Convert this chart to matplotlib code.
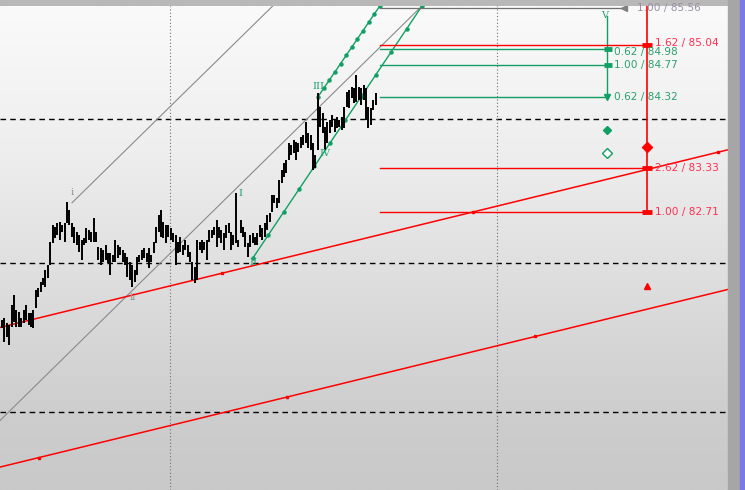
import numpy as np
import matplotlib
matplotlib.use("Agg")
import matplotlib.pyplot as plt
from matplotlib.colors import LinearSegmentedColormap
from matplotlib.patches import Rectangle

# ---------------- data ----------------
highs = [81.20,81.23,81.16,81.13,81.41,81.55,81.34,81.31,81.23,81.34,
         81.41,81.30,81.30,81.34,81.62,81.65,81.73,81.79,81.90,81.97,
         82.29,82.53,82.50,82.56,82.57,82.53,82.56,82.85,82.74,82.56,
         82.50,82.43,82.39,82.32,82.35,82.49,82.46,82.43,82.63,82.43,
         82.22,82.21,82.18,82.25,82.14,82.14,82.11,82.32,82.25,82.22,
         82.18,82.14,82.08,82.01,81.97,81.90,82.08,82.11,82.18,82.21,
         82.14,82.21,82.11,82.29,82.50,82.67,82.74,82.57,82.53,82.53,
         82.49,82.42,82.39,82.29,82.36,82.25,82.32,82.25,82.15,82.01,
         81.94,82.32,82.29,82.32,82.29,82.32,82.46,82.46,82.50,82.60,
         82.50,82.46,82.42,82.53,82.56,82.43,82.39,82.98,82.32,82.60,
         82.50,82.43,82.28,82.39,82.42,82.36,82.42,82.53,82.49,82.56,
         82.67,82.70,82.95,82.95,82.91,83.16,83.30,83.39,83.44,83.67,
         83.65,83.72,83.69,83.67,83.76,83.79,83.97,83.81,83.79,83.67,
         83.51,84.37,84.18,84.09,83.90,83.97,84.00,84.07,84.00,84.04,
         84.00,84.04,84.18,84.39,84.41,84.46,84.44,84.62,84.46,84.44,
         84.48,84.44,84.18,84.16,84.27,84.37]
lows = [81.09,80.89,80.96,80.85,81.10,81.17,81.10,81.10,81.10,81.16,
        81.20,81.13,81.10,81.09,81.37,81.52,81.59,81.69,81.66,81.79,
        81.97,82.28,82.35,82.39,82.32,82.43,82.29,82.56,82.53,82.36,
        82.28,82.25,82.15,82.04,82.25,82.28,82.32,82.29,82.29,82.29,
        82.04,81.97,82.01,82.04,82.00,81.83,82.01,82.01,82.07,82.11,
        82.01,81.97,81.80,81.76,81.66,81.73,81.83,82.01,82.04,82.07,
        82.01,81.93,82.01,82.14,82.28,82.43,82.36,82.35,82.28,82.36,
        82.32,82.29,81.97,82.14,82.15,82.11,82.18,82.08,82.01,81.76,
        81.72,81.76,82.18,82.14,82.18,82.04,82.29,82.35,82.39,82.22,
        82.35,82.28,82.18,82.35,82.42,82.18,82.25,82.28,82.22,82.42,
        82.36,82.22,82.08,82.22,82.28,82.25,82.25,82.36,82.32,82.36,
        82.46,82.57,82.71,82.84,82.77,82.84,83.12,83.20,83.26,83.44,
        83.51,83.53,83.44,83.55,83.60,83.65,83.67,83.60,83.58,83.30,
        83.32,83.58,83.90,83.81,83.58,83.67,83.81,83.90,83.83,83.88,
        83.90,83.86,83.88,84.18,84.16,84.30,84.23,84.25,84.27,84.20,
        84.27,84.00,83.88,83.93,84.14,84.20]

# grid levels (dashed) and vertical separators (bar index)
grid_levels = [84.01, 82.00, 79.92]
vsep = [69.7, 205.4]

# trend lines: ((x0, p0), (x1, p1)) in bar index / price
red_lines = [((-0.83, 81.10), (301.2, 83.58)), ((-0.83, 79.15), (301.2, 81.63))]
red_line_marks = [[91.3, 195.4, 297.1], [15.4, 118.3, 221.2]]
gray_lines = [((29.05, 82.84), (112.4, 85.59)), ((-0.83, 79.80), (174.3, 85.59))]
green_lines = [((104.1, 82.07), (174.3, 85.59)), ((131.1, 84.32), (156.8, 85.59))]

# projection levels
green_levels = [84.98, 84.77, 84.32]
green_texts = ["0.62 / 84.98", "1.00 / 84.77", "0.62 / 84.32"]
red_levels = [85.04, 83.33, 82.71]
red_texts = ["1.62 / 85.04", "2.62 / 83.33", "1.00 / 82.71"]
gray_level = 85.56
gray_text = "1.00 / 85.56"

wave_labels = ["i", "ii", "I", "II", "III", "IV", "V"]
wave_x = [29.0, 54.4, 98.8, 104.1, 131.1, 134.0, 250.2]
wave_p = [82.99, 81.52, 82.97, 82.01, 84.46, 83.53, 85.45]
wave_col = ["#a08878", "#909090", "#20a070", "#20a070", "#20a070", "#20a070", "#20a070"]

GREEN = "#10a064"
RED = "#ff0000"

# ---------------- figure ----------------
W, H = 745, 490
fig = plt.figure(figsize=(W / 100, H / 100), dpi=100)
fig.patch.set_facecolor("#b8b8b8")
fig.patches.append(Rectangle((728 / W, 0), 12 / W, 1, transform=fig.transFigure,
                             color="#a6a6a6", zorder=0))
fig.patches.append(Rectangle((740 / W, 0), 5 / W, 1, transform=fig.transFigure,
                             color="#7a7ae6", zorder=0))

ax = fig.add_axes([0, 0, 728 / W, 484 / H])
x0, x1 = -0.83, 301.2
y0, y1 = 78.83, 85.587
ax.set_xlim(x0, x1)
ax.set_ylim(y0, y1)
ax.axis("off")

cmap = LinearSegmentedColormap.from_list(
    "bg", [(0, "#fafafa"), (0.3, "#eeeeee"), (0.6, "#dcdcdc"), (0.85, "#cdcdcd"), (1, "#c9c9c9")])
grad = np.linspace(0, 1, 256).reshape(-1, 1)
ax.imshow(grad, extent=[x0, x1, y0, y1], origin="upper", cmap=cmap, aspect="auto", zorder=0)

for g in grid_levels:
    ax.axhline(g, color="black", lw=1.0, ls=(0, (4, 3)), zorder=1)
for v in vsep:
    ax.axvline(v, color="#707070", lw=0.8, ls=(0, (1, 2)), zorder=1)

# trend lines
for (a, b), marks in zip(red_lines, red_line_marks):
    ax.plot([a[0], b[0]], [a[1], b[1]], color=RED, lw=1.1, zorder=3)
    mp = np.interp(marks, [a[0], b[0]], [a[1], b[1]])
    ax.plot(marks, mp, ls="none", marker="s", color=RED, ms=1.8, zorder=3)
for (a, b) in gray_lines:
    ax.plot([a[0], b[0]], [a[1], b[1]], color="#8a8a8a", lw=0.8, zorder=2)
for (a, b) in green_lines:
    xs = np.linspace(a[0], b[0], 12)
    ys = np.linspace(a[1], b[1], 12)
    ax.plot(xs, ys, color=GREEN, lw=1.0, marker="o", ms=2.2, zorder=3)

# price bars
idx = np.arange(len(highs))
ax.vlines(idx, lows, highs, color="black", lw=1.4, zorder=4)

# projection lines
start = 156.8
for lvl in green_levels:
    ax.plot([start, 251.5], [lvl, lvl], color=GREEN, lw=1.0, zorder=3)
for lvl in green_levels[:2]:
    ax.plot([249.6, 253.0], [lvl, lvl], color=GREEN, lw=3.5, solid_capstyle="butt", zorder=5)
ax.plot([251.0], [green_levels[2]], marker="v", color=GREEN, ms=5, zorder=5)
ax.plot([251.0, 251.0], [85.45, 84.32], color=GREEN, lw=1.0, zorder=3)

for lvl in red_levels:
    ax.plot([start, 268.9], [lvl, lvl], color=RED, lw=1.0, zorder=3)
    ax.plot([265.5, 269.5], [lvl, lvl], color=RED, lw=3.5, solid_capstyle="butt", zorder=5)
ax.plot([267.6, 267.6], [y1, 82.71], color=RED, lw=1.2, zorder=3)

ax.plot([start, 257.3], [gray_level, gray_level], color="#707070", lw=0.9, zorder=3)
ax.plot([258.0], [gray_level], marker="<", color="#808080", ms=4, zorder=5)

# markers
ax.plot([267.6], [83.62], marker="D", color=RED, ms=5, zorder=6)
ax.plot([251.0], [83.855], marker="D", color=GREEN, ms=4.5, zorder=6)
ax.plot([251.0], [83.53], marker="D", mfc="white", mec=GREEN, ms=5, mew=1, zorder=6)
ax.plot([267.6], [81.68], marker="^", color=RED, ms=5, zorder=6)

fs = 7.6
for k, (lvl, t) in enumerate(zip(green_levels, green_texts)):
    va = "top" if k == 0 else "center"
    yy = lvl + 0.035 if k == 0 else lvl
    ax.text(253.8, yy, t, color="#2aa070", fontsize=fs, va=va, ha="left", zorder=7)
for k, (lvl, t) in enumerate(zip(red_levels, red_texts)):
    va = "bottom" if k == 0 else "center"
    yy = lvl - 0.04 if k == 0 else lvl
    ax.text(270.8, yy, t, color="#ff3050", fontsize=fs, va=va, ha="left", zorder=7)
ax.text(263.4, gray_level, gray_text, color="#9a90a8", fontsize=fs, va="center", ha="left", zorder=7)

for t, x, p, c in zip(wave_labels, wave_x, wave_p, wave_col):
    ax.text(x, p, t, color=c, fontsize=7, ha="center", va="center",
            family="DejaVu Serif", zorder=7)

fig.savefig("out.png", dpi=100)
